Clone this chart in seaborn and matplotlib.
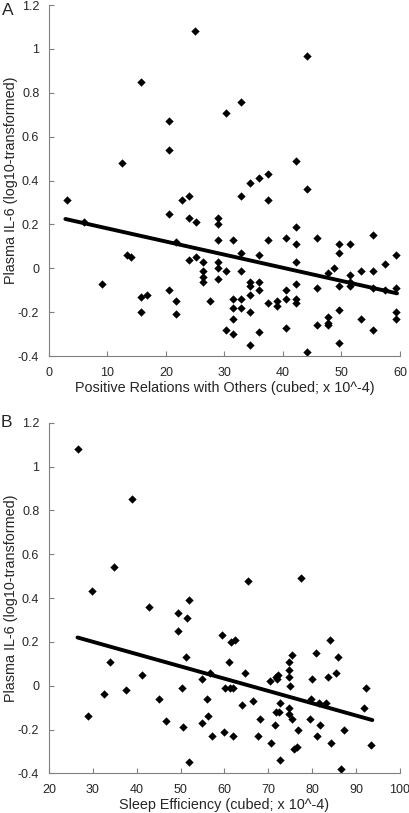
import matplotlib
matplotlib.use("Agg")
import matplotlib.pyplot as plt
import seaborn as sns
import pandas as pd

# panel A: positive relations with others vs plasma IL-6
relations = [25.0, 44.1, 15.8, 20.6, 30.2, 32.9, 20.6, 12.5, 42.3, 37.5, 35.9, 34.4, 44.1,
             3.0, 5.9, 9.1, 13.3, 14.1, 15.8, 16.7, 15.8, 20.6, 20.6, 21.7, 21.7, 21.7,
             22.7, 23.9, 23.9, 23.9, 25.1, 25.1, 26.3, 26.3, 26.3, 26.3, 27.5,
             28.9, 28.9, 28.9, 28.9, 28.9, 28.9, 30.2, 30.2,
             31.5, 31.5, 31.5, 31.5, 31.5, 32.9, 32.9, 32.9, 32.9, 32.9,
             34.4, 34.4, 34.4, 34.4, 34.4, 35.9, 35.9, 35.9, 35.9,
             37.5, 37.5, 37.5, 39.0, 39.0, 40.6, 40.6, 40.6, 40.6,
             42.3, 42.3, 42.3, 42.3, 42.3, 42.3, 44.1, 45.9, 45.9, 45.9,
             47.7, 47.7, 47.7, 47.7, 48.8, 49.5, 49.5, 49.5, 49.5, 49.5,
             51.4, 51.4, 51.4, 51.4, 53.3, 53.3, 55.4, 55.4, 55.4, 55.4,
             57.4, 57.4, 59.4, 59.4, 59.4, 59.4]
il6_a = [1.08, 0.97, 0.85, 0.67, 0.71, 0.76, 0.54, 0.48, 0.49, 0.43, 0.41, 0.39, 0.36,
         0.31, 0.21, -0.07, 0.06, 0.05, -0.13, -0.12, -0.20, 0.25, -0.10, 0.12, -0.15, -0.21,
         0.31, 0.33, 0.23, 0.04, 0.21, 0.05, 0.03, -0.01, -0.04, -0.06, -0.15,
         0.23, 0.20, 0.13, 0.03, 0.00, -0.05, -0.01, -0.28,
         0.13, -0.14, -0.18, -0.23, -0.30, 0.33, 0.07, -0.01, -0.14, -0.18,
         -0.06, -0.08, -0.12, -0.20, -0.35, 0.06, -0.06, -0.10, -0.29,
         0.31, 0.13, -0.16, -0.15, -0.17, 0.14, -0.10, -0.14, -0.27,
         0.19, 0.11, 0.03, -0.07, -0.14, -0.16, -0.38, 0.14, -0.09, -0.26,
         -0.02, -0.22, -0.25, -0.26, 0.00, 0.11, 0.07, -0.08, -0.19, -0.34,
         0.11, -0.03, -0.06, -0.08, -0.01, -0.23, 0.15, -0.01, -0.09, -0.28,
         0.02, -0.10, 0.06, -0.09, -0.20, -0.23]
# fitted line endpoints as shown in panel A
fit_a_x = [2.8, 59.5]
fit_a_y = [0.225, -0.114]

# panel B: sleep efficiency vs plasma IL-6
sleep = [26.5, 38.9, 34.9, 29.9, 42.8, 51.8, 65.4, 77.4,
         49.3, 49.4, 51.5, 51.2, 34.0, 32.6, 28.8, 37.6, 41.2, 45.0, 46.6, 50.3, 50.5, 51.8,
         54.8, 54.8, 56.1, 56.2, 56.8, 57.1, 59.4, 60.0, 60.1, 61.0, 61.2, 61.6, 62.0, 62.0,
         62.5, 64.1, 64.6, 66.5, 67.6, 68.0, 70.3, 70.5, 71.6, 71.7, 71.7, 72.0, 72.2, 72.4,
         72.7, 72.7, 74.6, 74.6, 74.6, 74.8, 74.8, 75.0, 75.4, 75.5, 75.8, 76.5, 76.8,
         79.6, 79.8, 79.9, 80.8, 81.1, 81.5, 81.7, 83.1, 83.5, 84.1, 84.3, 85.5, 85.9,
         86.6, 87.2, 91.8, 92.3, 93.5]
il6_b = [1.08, 0.85, 0.54, 0.43, 0.36, 0.39, 0.48, 0.49,
         0.33, 0.25, 0.31, 0.13, 0.11, -0.04, -0.14, -0.02, 0.05, -0.06, -0.16, -0.01, -0.19, -0.35,
         0.03, -0.17, -0.06, -0.14, 0.06, -0.23, 0.23, -0.21, -0.01, 0.11, -0.01, 0.20, -0.01, -0.23,
         0.21, -0.09, 0.06, -0.07, -0.23, -0.15, 0.02, -0.26, -0.18, -0.12, 0.04, 0.03, 0.05, -0.12,
         -0.34, -0.08, 0.07, 0.04, 0.11, -0.10, -0.13, 0.00, 0.14, -0.15, -0.29, -0.28, -0.20,
         -0.15, -0.06, 0.03, 0.15, -0.23, -0.08, -0.18, -0.08, 0.04, 0.21, -0.26, 0.06, 0.13,
         -0.38, -0.20, -0.10, -0.01, -0.27]
fit_b_x = [26.5, 93.7]
fit_b_y = [0.220, -0.157]

y_ticks = [-0.4, -0.2, 0, 0.2, 0.4, 0.6, 0.8, 1, 1.2]
y_labels = ["-0.4", "-0.2", "0", "0.2", "0.4", "0.6", "0.8", "1", "1.2"]

sns.set_style("white")
plt.rcParams["font.family"] = ["Liberation Sans", "DejaVu Sans"]

fig = plt.figure(figsize=(4.1, 8.13), dpi=100)
ax_a = fig.add_axes([0.1195, 0.562, 0.856, 0.4317])
ax_b = fig.add_axes([0.1195, 0.0488, 0.856, 0.4312])

panels = [
    (ax_a, pd.DataFrame({"x": relations, "y": il6_a}), fit_a_x, fit_a_y, (0, 60),
     range(0, 61, 10), "Positive Relations with Others (cubed; x 10^-4)"),
    (ax_b, pd.DataFrame({"x": sleep, "y": il6_b}), fit_b_x, fit_b_y, (20, 100),
     range(20, 101, 10), "Sleep Efficiency (cubed; x 10^-4)"),
]

for ax, df, fx, fy, xlim, xticks, xlabel in panels:
    sns.scatterplot(data=df, x="x", y="y", marker="D", s=18, color="black",
                    edgecolor="black", linewidth=0, ax=ax)
    sns.lineplot(x=fx, y=fy, color="black", linewidth=2.8, ax=ax)
    ax.set_xlim(*xlim)
    ax.set_ylim(-0.4, 1.2)
    ax.set_xticks(list(xticks))
    ax.set_yticks(y_ticks)
    ax.set_yticklabels(y_labels)
    ax.set_xlabel(xlabel, fontsize=10.4)
    ax.set_ylabel("Plasma IL-6 (log10-transformed)", fontsize=10.4)
    ax.xaxis.set_label_coords(0.5, -0.071)
    ax.yaxis.set_label_coords(-0.088, 0.5)
    for side in ["top", "right"]:
        ax.spines[side].set_visible(False)
    for side in ["left", "bottom"]:
        ax.spines[side].set_color("#808080")
        ax.spines[side].set_linewidth(0.8)
    ax.tick_params(direction="in", length=3.6, width=0.8, color="#808080",
                   labelsize=9, left=True, bottom=True)
    ax.tick_params(axis="x", pad=8)
    ax.tick_params(axis="y", pad=7)

fig.text(2 / 410, 1 - 3 / 813, "A", fontsize=12.5, ha="left", va="top")
fig.text(1 / 410, 1 - 415 / 813, "B", fontsize=12.5, ha="left", va="top")

fig.savefig("out.png", dpi=100)
